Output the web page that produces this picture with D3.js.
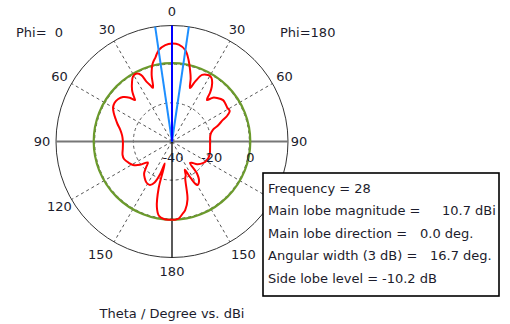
<!DOCTYPE html>
<html>
<head>
<meta charset="utf-8">
<script src="https://cdn.jsdelivr.net/npm/d3@7"></script>
<style>
  body { margin: 0; background: #fff; }
  svg text { font-family: "DejaVu Sans", sans-serif; fill: #1c1c2c; }
</style>
</head>
<body>
<div id="vis-container"></div>
<script>
// Farfield cut, Phi = 0 (left half) and Phi = 180 (right half), dBi vs theta
const thetaPhi0 = [0, 4, 8.35, 11, 14, 17, 19.5, 21, 23, 25, 28, 31, 34, 37.8, 40, 41.7, 44, 47.8, 52, 56, 60, 64, 68, 72, 77, 83, 90, 98, 105, 110, 116, 121, 126, 131, 135, 139, 143, 148, 153, 157, 160, 162, 164, 167, 170, 174, 178, 180];
const dbPhi0 = [10.7, 10.0, 7.7, 4.5, 1.5, -4, -10.5, -9, -6.5, -2, -0.3, -0.8, -3, -6.3, -9, -11.2, -8.5, -5.8, -4.5, -4.2, -4.8, -6.5, -8.5, -10.3, -12.5, -14, -14.6, -14.3, -13.5, -13.6, -15, -16.5, -19.5, -23.5, -21, -18, -16.5, -15, -14.8, -17, -22, -28, -15, -5.2, -1, 0.3, 0.5, 0.5];

const thetaPhi180 = [0, 4, 8.35, 11.5, 14, 16.5, 18.6, 21, 24.3, 28.4, 31, 33, 36, 38, 40.1, 43, 46, 51, 55, 59, 62, 65, 67, 71, 74, 80, 90, 100, 107, 112, 118, 125, 132, 137, 140, 142, 146, 150, 153, 155.5, 158, 160, 165, 169, 172, 175, 178, 180];
const dbPhi180 = [10.7, 10.2, 7.7, 3, -1.5, -6, -10.8, -7, -2.2, -0.9, -1, -2, -5, -8.1, -11.9, -9, -7.6, -6, -6.2, -6.5, -6.2, -8.5, -11.4, -15, -18, -19.8, -20.3, -20, -19.5, -19.3, -19.5, -20.5, -22.5, -25, -25.5, -19, -15, -14, -19, -24, -21, -20, -9, -4, -2, 0, 0.5, 0.5];

const angleTicks = [30, 60, 90, 120, 150];
const ringTicks = [-40, -20, 0];
const gridRings = [-20, 0];

const mainLobeDir = 0.0;      // deg
const angularWidth = 16.7;    // deg (3 dB)
const sideLobeAbs = 0.5;      // dBi, main lobe 10.7 - 10.2 dB

const legendLines = [
  { label: "Frequency = 28", value: "", vx: 0 },
  { label: "Main lobe magnitude =", value: "10.7 dBi", vx: 442 },
  { label: "Main lobe direction =", value: "0.0 deg.", vx: 420 },
  { label: "Angular width (3 dB) =", value: "16.7 deg.", vx: 430 },
  { label: "Side lobe level =", value: "-10.2 dB", vx: 382 }
];

const width = 510, height = 324;
const cx = 172, cy = 141.5, R = 116;

const svg = d3.select("#vis-container")
  .append("svg")
  .attr("width", width)
  .attr("height", height);

const rScale = d3.scaleLinear().domain([-40, 20]).range([0, R]);
const rad = (deg) => deg * Math.PI / 180;

const plot = svg.append("g").attr("transform", `translate(${cx},${cy})`);

// dashed rings
plot.selectAll(".ring")
  .data(gridRings)
  .enter()
  .append("circle")
  .attr("r", (d) => rScale(d))
  .attr("fill", "none")
  .attr("stroke", "#555")
  .attr("stroke-width", 1)
  .attr("stroke-dasharray", "3,3");

// dashed spokes on both halves
const spokes = angleTicks.filter((a) => a !== 90).flatMap((a) => [a, -a]);
plot.selectAll(".spoke")
  .data(spokes)
  .enter()
  .append("line")
  .attr("x1", 0).attr("y1", 0)
  .attr("x2", (d) => R * Math.sin(rad(d)))
  .attr("y2", (d) => -R * Math.cos(rad(d)))
  .attr("stroke", "#555")
  .attr("stroke-width", 1)
  .attr("stroke-dasharray", "3,3");

// outer circle
plot.append("circle")
  .attr("r", R)
  .attr("fill", "none")
  .attr("stroke", "#333")
  .attr("stroke-width", 1);

// 90 deg axis (grey) and 0/180 axis (black)
plot.append("line")
  .attr("x1", -R).attr("y1", 0).attr("x2", R).attr("y2", 0)
  .attr("stroke", "#777").attr("stroke-width", 2);
plot.append("line")
  .attr("x1", 0).attr("y1", -R).attr("x2", 0).attr("y2", R)
  .attr("stroke", "#000").attr("stroke-width", 1.3);

// side lobe level circle
plot.append("circle")
  .attr("r", rScale(sideLobeAbs))
  .attr("fill", "none")
  .attr("stroke", "#6b9a2c")
  .attr("stroke-width", 2.2);

// pattern: left half goes to negative angles, right half back up
const pts = thetaPhi0.map((t, i) => ({ a: -rad(t), db: dbPhi0[i] }));
for (let i = thetaPhi180.length - 2; i > 0; i--) {
  pts.push({ a: rad(thetaPhi180[i]), db: dbPhi180[i] });
}

const radial = d3.lineRadial()
  .angle((d) => d.a)
  .radius((d) => rScale(d.db))
  .curve(d3.curveCatmullRomClosed.alpha(0.5));

plot.append("path")
  .attr("d", radial(pts))
  .attr("fill", "none")
  .attr("stroke", "#ff0000")
  .attr("stroke-width", 2);

// main lobe and 3 dB width lines
const lobeLines = [
  { a: mainLobeDir - angularWidth / 2, c: "#1e8fff" },
  { a: mainLobeDir + angularWidth / 2, c: "#1e8fff" },
  { a: mainLobeDir, c: "#0000ff" }
];
plot.selectAll(".lobe")
  .data(lobeLines)
  .enter()
  .append("line")
  .attr("x1", 0).attr("y1", 0)
  .attr("x2", (d) => R * Math.sin(rad(d.a)))
  .attr("y2", (d) => -R * Math.cos(rad(d.a)))
  .attr("stroke", (d) => d.c)
  .attr("stroke-width", 2);

// angle labels (right 120 sits under the info box, so it is not drawn)
const labelR = 130;
const angleLabels = [0, 180].map((a) => ({ a: a, s: 1 }))
  .concat(angleTicks.flatMap((a) => [{ a: a, s: -1 }, { a: a, s: 1 }]))
  .filter((d) => !(d.a === 120 && d.s === 1));
plot.selectAll(".alabel")
  .data(angleLabels)
  .enter()
  .append("text")
  .attr("x", (d) => d.s * labelR * Math.sin(rad(d.a)) * (d.a === 150 ? 1.1 : 1) - (d.a === 90 && d.s === 1 ? 3 : 0))
  .attr("y", (d) => -labelR * Math.cos(rad(d.a)))
  .attr("dy", "0.36em")
  .attr("text-anchor", "middle")
  .attr("font-size", "13px")
  .text((d) => d.a);

// radial labels
plot.selectAll(".rlabel")
  .data(ringTicks)
  .enter()
  .append("text")
  .attr("x", (d) => rScale(d) + 1)
  .attr("y", 16)
  .attr("dy", "0.36em")
  .attr("text-anchor", "middle")
  .attr("font-size", "13px")
  .text((d) => d);

// phi labels
svg.append("text").attr("x", 16).attr("y", 37).attr("font-size", "13px")
  .attr("xml:space", "preserve").style("white-space", "pre").text("Phi=  0");
svg.append("text").attr("x", 280).attr("y", 37).attr("font-size", "13px").text("Phi=180");

// axis title
svg.append("text")
  .attr("x", cx).attr("y", 318)
  .attr("text-anchor", "middle")
  .attr("font-size", "13px")
  .text("Theta / Degree vs. dBi");

// legend box
svg.append("rect")
  .attr("x", 263).attr("y", 173)
  .attr("width", 236).attr("height", 123)
  .attr("fill", "#fff")
  .attr("stroke", "#000")
  .attr("stroke-width", 1.6);

const legend = svg.selectAll(".leg")
  .data(legendLines)
  .enter()
  .append("g");
legend.append("text")
  .attr("x", 268)
  .attr("y", (d, i) => 192.5 + i * 22.5)
  .attr("font-size", "13px")
  .text((d) => d.label);
legend.append("text")
  .attr("x", (d) => d.vx)
  .attr("y", (d, i) => 192.5 + i * 22.5)
  .attr("font-size", "13px")
  .text((d) => d.value);
</script>
</body>
</html>
